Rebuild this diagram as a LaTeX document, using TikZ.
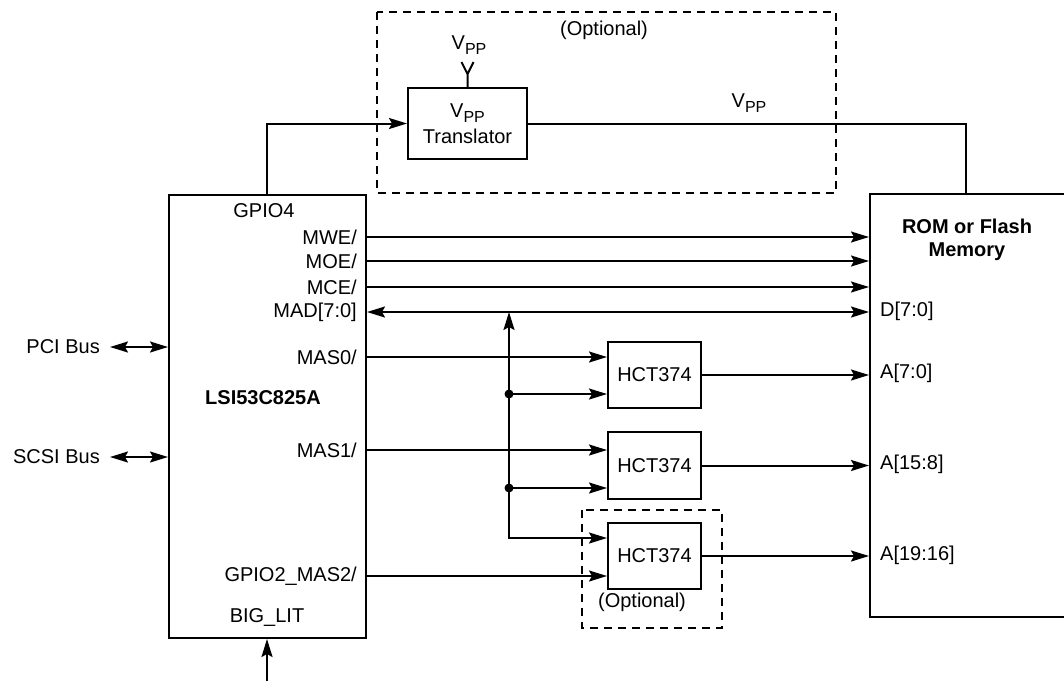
\documentclass[tikz,border=0pt]{standalone}
\usepackage{fontspec}
\setmainfont{Liberation Sans}
\usetikzlibrary{arrows.meta,calc}
\def\vpp{V\raisebox{-5pt}{\fontsize{16}{16}\selectfont PP}}

\tikzset{
	wire/.style={line width=2pt},
	sig/.style={wire, -{Stealth[length=18pt,width=11pt,inset=3pt]}},
	bisig/.style={wire, {Stealth[length=18pt,width=11pt,inset=3pt]}-{Stealth[length=18pt,width=11pt,inset=3pt]}},
	chip/.style={draw, line width=2pt, inner sep=0pt},
	optbox/.style={line width=2pt, dash pattern=on 8pt off 6pt},
	pin/.style={inner sep=0pt},
}

\begin{document}
\fontsize{20}{24}\selectfont
\begin{tikzpicture}[x=1pt, y=-1pt]
			%%%%% START %%%%%
			\useasboundingbox (0,0) rectangle (1064,681);
			
			% boxes
			\node[chip, minimum width=197pt, minimum height=443pt] (lsi) at (267.5,416.5) {};
			\node[chip, minimum width=224pt, minimum height=423pt] (mem) at (982,405.5) {};
			\node[chip, minimum width=119pt, minimum height=71pt, align=center, font=\fontsize{20}{26}\selectfont] (trans) at (467.5,123.5) {\vpp\\Translator};
			\node[chip, minimum width=93pt, minimum height=66pt] (hctA) at (654.5,375) {HCT374};
			\node[chip, minimum width=93pt, minimum height=67pt] (hctB) at (654.5,465.5) {HCT374};
			\node[chip, minimum width=93pt, minimum height=66pt] (hctC) at (654.5,556) {HCT374};
			
			% optional regions
			\draw[optbox] (377,12) rectangle (836,193);
			\draw[optbox] (582,510) rectangle (722,628);
			\node[pin] (lOptA) at (604,30) {(Optional)};
			\node[pin] (lOptB) at (642,602) {(Optional)};
			
			% LSI pins
			\node[pin] (lGPIOf) at (264,211) {GPIO4};
			\node[pin, anchor=east] (lMWE) at (357,237) {MWE/};
			\node[pin, anchor=east] (lMOE) at (357,261) {MOE/};
			\node[pin, anchor=east] (lMCE) at (357,287) {MCE/};
			\node[pin, anchor=east] (lMAD) at (357,312) {MAD[7:0]};
			\node[pin, anchor=east] (lMASa) at (357,357) {MAS0/};
			\node[pin, anchor=east] (lMASb) at (357,450) {MAS1/};
			\node[pin, anchor=east] (lMASc) at (357,576) {GPIO2\_MAS2/};
			\node[pin] (lBIG) at (267,617) {BIG\_LIT};
			\node[pin, font=\bfseries] (lLSI) at (263,398) {LSI53C825A};
			
			\node[pin, anchor=east] (lPCI) at (100,347) {PCI Bus};
			\node[pin, anchor=east] (lSCSI) at (100,457) {SCSI Bus};
			
			% memory pins
			\node[pin, align=center, font=\fontsize{20}{23}\selectfont\bfseries] (lROM) at (967,240) {ROM or Flash\\Memory};
			\node[pin, anchor=west] (lD) at (880,311) {D[7:0]};
			\node[pin, anchor=west] (lAa) at (880,373) {A[7:0]};
			\node[pin, anchor=west] (lAb) at (880,464) {A[15:8]};
			\node[pin, anchor=west] (lAc) at (880,555) {A[19:16]};
			
			% VPP
			\node[pin] (lVin) at (469,45) {\vpp};
			\node[pin] (lVout) at (749,103) {\vpp};
			\coordinate (gpioX) at (267,124);
			\coordinate (vppX) at (966,124);
			\draw[sig] (lsi.north -| gpioX) |- (trans.west);
			\draw[wire] (trans.east) -| (mem.north -| vppX);
			\draw[wire] (trans.north) -- ++(0,-13) coordinate (fork) -- ++(-6,-12) (fork) -- ++(6,-12);
			
			% control and data lines
			\foreach \p in {lMWE,lMOE,lMCE}
				\draw[sig] (lsi.east |- \p) -- (mem.west |- \p);
			\draw[bisig] (lsi.east |- lMAD) -- (mem.west |- lMAD);
			
			% latch inputs
			\coordinate (busTop) at (509,312);
			\coordinate (tapA) at (509,394);
			\coordinate (tapB) at (509,488);
			\coordinate (busEnd) at (509,538);
			\draw[bisig] (hctC.west |- busEnd) -| (busTop);
			\draw[sig] (tapA) -- (hctA.west |- tapA);
			\draw[sig] (tapB) -- (hctB.west |- tapB);
			\fill (tapA) circle (4.5);
			\fill (tapB) circle (4.5);
			
			\draw[sig] (lsi.east |- lMASa) -- (hctA.west |- lMASa);
			\draw[sig] (lsi.east |- lMASb) -- (hctB.west |- lMASb);
			\draw[sig] (lsi.east |- lMASc) -- (hctC.west |- lMASc);
			
			% latch outputs
			\draw[sig] (hctA.east) -- (mem.west |- hctA.east);
			\draw[sig] (hctB.east) -- (mem.west |- hctB.east);
			\draw[sig] (hctC.east) -- (mem.west |- hctC.east);
			
			% buses and strap
			\draw[bisig] ([xshift=10pt]lPCI.east) -- (lsi.west |- lPCI);
			\draw[bisig] ([xshift=10pt]lSCSI.east) -- (lsi.west |- lSCSI);
			\coordinate (bigIn) at (267,681);
			\draw[sig] (bigIn) -- (lsi.south -| bigIn);
			
			%%%%% END %%%%%
\end{tikzpicture}
\end{document}
